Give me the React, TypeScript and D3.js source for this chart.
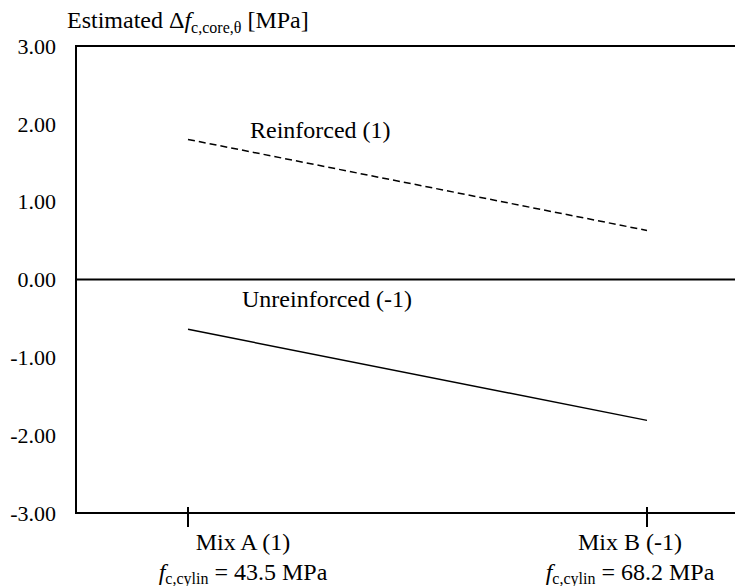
import React from "react";
import * as d3 from "d3";

const categories = ["Mix A (1)", "Mix B (-1)"];
const strengthLabels = ["43.5 MPa", "68.2 MPa"];
const reinforced = [1.8, 0.63];
const unreinforced = [-0.64, -1.81];
const yTicks = [3, 2, 1, 0, -1, -2, -3];

const W = 735;
const H = 586;
const FONT = '"Liberation Serif", "Times New Roman", serif';

export default function App() {
  const left = 76;
  const right = 735;
  const top = 46;
  const bottom = 513;
  const y = d3.scaleLinear().domain([-3, 3]).range([bottom, top]);
  const x = d3.scaleLinear().domain([0, 1]).range([188, 647]);
  const labelX = [243, 630];
  const line = d3
    .line<number>()
    .x((_, i) => x(i))
    .y((d) => y(d));

  return (
    <svg
      width={W}
      height={H}
      style={{ position: "absolute", left: 0, top: 0, background: "#fff", fontFamily: FONT }}
    >
      <rect x={0} y={0} width={W} height={H} fill="#fff" />
      {/* frame */}
      <line x1={left} x2={right} y1={top} y2={top} stroke="#000" strokeWidth={2} />
      <line x1={left} x2={left} y1={top - 1} y2={bottom + 1} stroke="#000" strokeWidth={2} />
      <line x1={left} x2={right} y1={bottom} y2={bottom} stroke="#000" strokeWidth={2} />
      <line x1={left} x2={right} y1={y(0)} y2={y(0)} stroke="#000" strokeWidth={2} />

      {/* y tick labels */}
      {yTicks.map((t) => (
        <text key={t} x={56} y={y(t)} dy="0.35em" textAnchor="end" fontSize={22}>
          {t.toFixed(2)}
        </text>
      ))}

      {/* y label */}
      <text x={67} y={28} fontSize={24}>
        Estimated Δ
        <tspan fontStyle="italic">f</tspan>
        <tspan fontSize={16} dy={5}>c,core,θ</tspan>
        <tspan dy={-5}> [MPa]</tspan>
      </text>

      {/* x ticks and labels */}
      {categories.map((c, i) => (
        <g key={c}>
          <line x1={x(i)} x2={x(i)} y1={bottom - 6} y2={bottom + 14} stroke="#000" strokeWidth={2} />
          <text x={labelX[i]} y={550} textAnchor="middle" fontSize={24}>
            {c}
          </text>
          <text x={labelX[i]} y={580} textAnchor="middle" fontSize={24}>
            <tspan fontStyle="italic">f</tspan>
            <tspan fontSize={16} dy={4}>c,cylin</tspan>
            <tspan dy={-4}> = {strengthLabels[i]}</tspan>
          </text>
        </g>
      ))}

      {/* series */}
      <path d={line(reinforced) || ""} fill="none" stroke="#000" strokeWidth={1.5} strokeDasharray="7,4" />
      <path d={line(unreinforced) || ""} fill="none" stroke="#000" strokeWidth={1.5} />

      <text x={250} y={138} fontSize={24}>
        Reinforced (1)
      </text>
      <text x={242} y={307} fontSize={24}>
        Unreinforced (-1)
      </text>
    </svg>
  );
}
